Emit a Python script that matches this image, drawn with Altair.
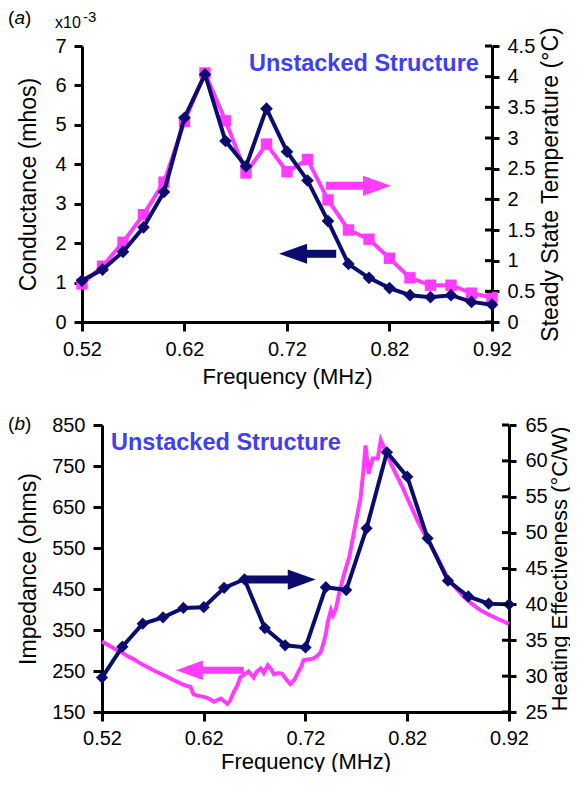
import altair as alt
import pandas as pd

FONT = "Liberation Sans"
NAVY = "#0c0c6e"
MAGENTA = "#ff3cff"
BLUE_TXT = "#4040f0"

# ---------------- data ----------------
freq = [0.52, 0.54, 0.56, 0.58, 0.60, 0.62, 0.64, 0.66, 0.68, 0.70,
        0.72, 0.74, 0.76, 0.78, 0.80, 0.82, 0.84, 0.86, 0.88, 0.90, 0.92]
# panel (a): conductance (x1e-3 mhos) and steady state temperature (deg C)
conductance = [1.05, 1.33, 1.78, 2.40, 3.30, 5.18, 6.28, 4.59, 3.95, 5.41,
               4.32, 3.59, 2.56, 1.47, 1.12, 0.86, 0.68, 0.63, 0.68, 0.51, 0.44]
temperature = [0.62, 0.91, 1.30, 1.75, 2.28, 3.27, 4.06, 3.28, 2.43, 2.90,
               2.45, 2.65, 1.99, 1.50, 1.35, 1.04, 0.72, 0.60, 0.60, 0.47, 0.40]
# panel (b): heating effectiveness (deg C/W)
heating = [29.8, 34.1, 37.3, 38.2, 39.5, 39.6, 42.3, 43.5, 36.7, 34.3,
           34.0, 42.4, 42.0, 50.6, 61.2, 57.8, 49.2, 43.3, 41.1, 40.1, 40.0]
# panel (b): measured impedance sweep (ohms)
imp_freq = [0.520, 0.527, 0.534, 0.539, 0.546, 0.553, 0.558, 0.565, 0.572, 0.578,
            0.584, 0.590, 0.597, 0.603, 0.607, 0.610, 0.614, 0.620, 0.625, 0.630,
            0.634, 0.637, 0.640, 0.643, 0.646, 0.649, 0.653, 0.656, 0.660, 0.664,
            0.667, 0.669, 0.672, 0.676, 0.679, 0.683, 0.686, 0.689, 0.693, 0.697,
            0.701, 0.705, 0.709, 0.712, 0.716, 0.718, 0.722, 0.727, 0.731, 0.735,
            0.738, 0.740, 0.742, 0.745, 0.747, 0.750, 0.753, 0.758, 0.763, 0.768,
            0.774, 0.777, 0.779, 0.782, 0.786, 0.791, 0.794, 0.799, 0.805, 0.810,
            0.815, 0.820, 0.825, 0.830, 0.835, 0.840, 0.845, 0.851, 0.859, 0.868,
            0.876, 0.884, 0.892, 0.900, 0.908, 0.920]
impedance = [322, 312, 302, 296, 285, 276, 268, 259, 250, 243,
             236, 228, 220, 214, 211, 193, 190, 187, 183, 175,
             180, 183, 176, 170, 178, 196, 215, 235, 242, 249,
             240, 234, 248, 256, 245, 264, 255, 242, 245, 243,
             230, 218, 228, 243, 262, 276, 278, 280, 285, 296,
             320, 341, 370, 398, 386, 402, 439, 487, 528, 593,
             670, 740, 800, 731, 768, 768, 813, 784, 750, 725,
             700, 672, 645, 617, 593, 570, 548, 520, 480, 452,
             430, 413, 398, 388, 378, 365]

x_ticks = [0.52, 0.62, 0.72, 0.82, 0.92]
cond_ticks = [0, 1, 2, 3, 4, 5, 6, 7]
temp_ticks = [0, 0.5, 1, 1.5, 2, 2.5, 3, 3.5, 4, 4.5]
imp_ticks = [150, 250, 350, 450, 550, 650, 750, 850]
heat_ticks = [25, 30, 35, 40, 45, 50, 55, 60, 65]

# arrows (data units): y, shaft start, shaft end, head centre
arrow_a_temp = {"y": [2.22], "x0": [0.758], "x1": [0.797], "xh": [0.8078]}
arrow_a_cond = {"y": [1.73], "x0": [0.738], "x1": [0.768], "xh": [0.7259]}
arrow_b_heat = {"y": [43.45], "x0": [0.6603], "x1": [0.704], "xh": [0.7163]}
arrow_b_imp = {"y": [252], "x0": [0.617], "x1": [0.6594], "xh": [0.6059]}

title_text = ["Unstacked Structure"]

W_A, H_A = 410, 276
SHIFT_B = 20                      # panel (b) plot starts 20px further right
W_B, H_B = 407 + SHIFT_B, 287

RIGHT = "M-1,-0.72L1,0L-1,0.72Z"
LEFT = "M1,-0.72L-1,0L1,0.72Z"

AX = dict(domainColor="black", domainWidth=3, tickColor="black", tickWidth=3,
          labelFont=FONT, labelFontSize=20, labelColor="black",
          titleFont=FONT, titleFontWeight="normal",
          titleColor="black", grid=False, labelFlush=False, labelOverlap=False)


def X(field, ty, rng, lp):
    return alt.X(f"{field}:Q",
                 scale=alt.Scale(domain=[0.52, 0.92], nice=False, zero=False, range=rng),
                 axis=alt.Axis(values=x_ticks, format=".2f", title="Frequency (MHz)",
                               tickSize=9, labelPadding=lp, titleY=ty, titleFontSize=22,
                               orient="bottom", **AX))


def Y(field, domain, axis):
    return alt.Y(f"{field}:Q", scale=alt.Scale(domain=domain, nice=False, zero=False), axis=axis)


def text_layer(txt, x, y, size, **kw):
    return alt.Chart(pd.DataFrame({"t": [txt]})).mark_text(
        font=FONT, fontSize=size, color=kw.pop("color", "black"), align="left", **kw
    ).encode(x=alt.value(x), y=alt.value(y), text="t:N")


def panel_label(letter, x0, y):
    return [
        text_layer("(", x0, y, 19, baseline="middle"),
        text_layer(letter, x0 + 6.4, y, 19, baseline="middle", fontStyle="italic"),
        text_layer(")", x0 + 17.0, y, 19, baseline="middle"),
    ]


# ---------------- panel (a) ----------------
XA = lambda f: X(f, 44, [0, W_A], 8)
df_a = pd.DataFrame({"f": freq, "cond": conductance, "temp": temperature})
cond_axis = alt.Axis(values=cond_ticks, format="d", title="Conductance (mhos)", orient="left",
                     tickSize=8, labelPadding=8, titleX=-42, titleFontSize=23, **AX)
temp_axis = alt.Axis(values=temp_ticks, format=".1~f", title="Steady State Temperature (°C)",
                     orient="right", tickSize=7, labelPadding=8, titleAngle=270,
                     titleBaseline="top", titleX=47, titleFontSize=23, **AX)

ya_c = lambda f: Y(f, [0, 7], cond_axis)
ya_t = lambda f: Y(f, [0, 4.5], temp_axis)

adf_t = pd.DataFrame(arrow_a_temp)
adf_c = pd.DataFrame(arrow_a_cond)

right_a = alt.layer(
    alt.Chart(df_a).mark_line(color=MAGENTA, strokeWidth=4).encode(x=XA("f"), y=ya_t("temp")),
    alt.Chart(df_a).mark_point(shape="square", filled=True, size=130, color=MAGENTA, opacity=1)
    .encode(x=XA("f"), y=ya_t("temp")),
    alt.Chart(adf_t).mark_rule(color=MAGENTA, strokeWidth=8).encode(x=XA("x0"), x2="x1:Q", y=ya_t("y")),
    alt.Chart(adf_t).mark_point(shape=RIGHT, filled=True, size=784, color=MAGENTA, opacity=1, strokeWidth=0)
    .encode(x=XA("xh"), y=ya_t("y")),
    alt.Chart(pd.DataFrame({"t": temp_ticks})).mark_rule(color="black", strokeWidth=3)
    .encode(x=alt.value(W_A - 7), x2=alt.value(W_A), y=ya_t("t")),
)

left_a = alt.layer(
    alt.Chart(df_a).mark_line(color=NAVY, strokeWidth=4).encode(x=XA("f"), y=ya_c("cond")),
    alt.Chart(df_a).mark_point(shape="diamond", filled=True, size=160, color=NAVY, opacity=1)
    .encode(x=XA("f"), y=ya_c("cond")),
    alt.Chart(adf_c).mark_rule(color=NAVY, strokeWidth=8).encode(x=XA("x0"), x2="x1:Q", y=ya_c("y")),
    alt.Chart(adf_c).mark_point(shape=LEFT, filled=True, size=784, color=NAVY, opacity=1, strokeWidth=0)
    .encode(x=XA("xh"), y=ya_c("y")),
    text_layer(title_text[0], 167, 25, 23.5, color=BLUE_TXT, fontWeight="bold", baseline="alphabetic"),
    text_layer("x10", -27, -18, 16, baseline="alphabetic"),
    text_layer("-3", 1, -24.5, 15, baseline="alphabetic"),
    *panel_label("a", -74, -28.5),
)

panel_a = alt.layer(right_a, left_a).resolve_scale(y="independent").properties(width=W_A, height=H_A)

# ---------------- panel (b) ----------------
XB = lambda f: X(f, 39, [SHIFT_B, W_B], 7)
df_b = pd.DataFrame({"f": freq, "heat": heating})
df_imp = pd.DataFrame({"f": imp_freq, "imp": impedance})
imp_axis = alt.Axis(values=imp_ticks, format="d", title="Impedance (ohms)", orient="left",
                    offset=-SHIFT_B, tickSize=9, labelPadding=8, titleX=-62, titleFontSize=23, **AX)
heat_axis = alt.Axis(values=heat_ticks, format="d", title="Heating Effectiveness (°C/W)",
                     orient="right", tickSize=7, labelPadding=9, titleAngle=270,
                     titleBaseline="top", titleX=40, titleFontSize=22, **AX)

yb_i = lambda f: Y(f, [150, 850], imp_axis)
yb_h = lambda f: Y(f, [25, 65], heat_axis)

bdf_h = pd.DataFrame(arrow_b_heat)
bdf_i = pd.DataFrame(arrow_b_imp)

left_b = alt.layer(
    alt.Chart(df_imp).mark_line(color=MAGENTA, strokeWidth=4).encode(x=XB("f"), y=yb_i("imp")),
    alt.Chart(bdf_i).mark_rule(color=MAGENTA, strokeWidth=7).encode(x=XB("x0"), x2="x1:Q", y=yb_i("y")),
    alt.Chart(bdf_i).mark_point(shape=LEFT, filled=True, size=729, color=MAGENTA, opacity=1, strokeWidth=0)
    .encode(x=XB("xh"), y=yb_i("y")),
    text_layer(title_text[0], SHIFT_B + 9, 25, 23.5, color=BLUE_TXT, fontWeight="bold", baseline="alphabetic"),
    *panel_label("b", SHIFT_B - 94, -1.5),
)

right_b = alt.layer(
    alt.Chart(df_b).mark_line(color=NAVY, strokeWidth=4).encode(x=XB("f"), y=yb_h("heat")),
    alt.Chart(df_b).mark_point(shape="diamond", filled=True, size=150, color=NAVY, opacity=1)
    .encode(x=XB("f"), y=yb_h("heat")),
    alt.Chart(bdf_h).mark_rule(color=NAVY, strokeWidth=8).encode(x=XB("x0"), x2="x1:Q", y=yb_h("y")),
    alt.Chart(bdf_h).mark_point(shape=RIGHT, filled=True, size=784, color=NAVY, opacity=1, strokeWidth=0)
    .encode(x=XB("xh"), y=yb_h("y")),
    alt.Chart(pd.DataFrame({"t": heat_ticks})).mark_rule(color="black", strokeWidth=3)
    .encode(x=alt.value(W_B - 7), x2=alt.value(W_B), y=yb_h("t")),
)

panel_b = alt.layer(left_b, right_b).resolve_scale(y="independent").properties(width=W_B, height=H_B)

chart = alt.vconcat(panel_a, panel_b, spacing=27).properties(
    padding={"left": 0, "top": 0, "right": 0, "bottom": 0},
    background="white",
).configure_view(strokeWidth=0)

chart.save("out.html", embed_options={"renderer": "svg", "actions": False})
